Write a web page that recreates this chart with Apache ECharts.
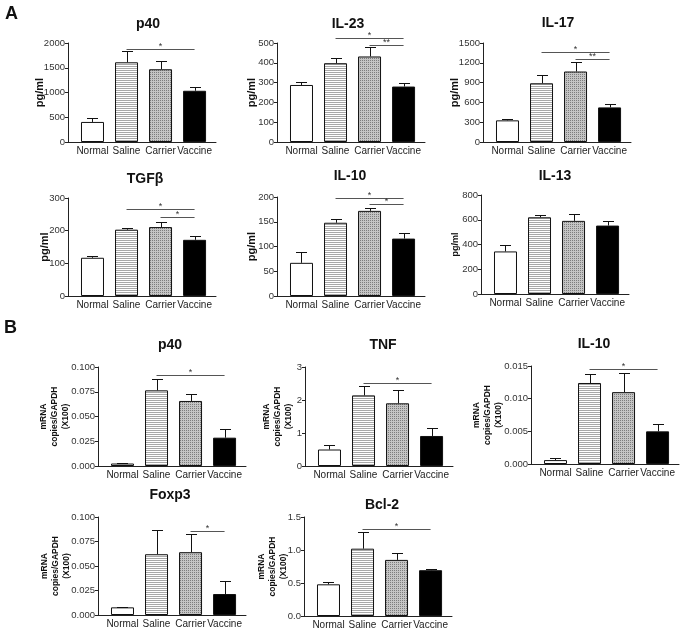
<!DOCTYPE html>
<html><head><meta charset="utf-8">
<script src="https://cdn.jsdelivr.net/npm/echarts@6/dist/echarts.min.js"></script>
<style>html,body{margin:0;padding:0;background:#fff}#c{width:686px;height:634px}</style>
</head><body><div id="c"></div>
<script>
const categories = ['Normal', 'Saline', 'Carrier', 'Vaccine'];

// ---- Panel A: protein (pg/ml) ----
const p40A_mean = [405, 1610, 1470, 1035];
const p40A_sem  = [70, 220, 163, 84];
const p40A_sig  = [[1, 3, 1885, '*']];

const il23_mean = [288, 398, 432, 280];
const il23_sem  = [17, 24, 48, 20];
const il23_sig  = [[1, 3, 525, '*'], [2, 3, 492, '**']];

const il17_mean = [328, 890, 1068, 524];
const il17_sem  = [17, 122, 147, 56];
const il17_sig  = [[1, 3, 1363, '*'], [2, 3, 1256, '**']];

const tgfb_mean = [117, 203, 211, 172];
const tgfb_sem  = [5, 5, 17, 11];
const tgfb_sig  = [[1, 3, 266, '*'], [2, 3, 241, '*']];

const il10A_mean = [67, 148, 172, 116];
const il10A_sem  = [22, 8, 5, 12];
const il10A_sig  = [[1, 3, 197, '*'], [2, 3, 185, '*']];

const il13_mean = [344, 620, 591, 553];
const il13_sem  = [56, 22, 56, 38];
const il13_sig  = [];

// ---- Panel B: mRNA copies/GAPDH (X100) ----
const p40B_mean = [0.0025, 0.0764, 0.0657, 0.0286];
const p40B_sem  = [0.0008, 0.0118, 0.0074, 0.0091];
const p40B_sig  = [[1, 3, 0.0923, '*']];

const tnf_mean = [0.50, 2.14, 1.90, 0.91];
const tnf_sem  = [0.15, 0.28, 0.39, 0.23];
const tnf_sig  = [[1, 3, 2.525, '*']];

const il10B_mean = [0.0006, 0.0124, 0.0110, 0.0050];
const il10B_sem  = [0.0003, 0.0014, 0.0030, 0.0011];
const il10B_sig  = [[1, 3, 0.0146, '*']];

const foxp3_mean = [0.0078, 0.0620, 0.0641, 0.0214];
const foxp3_sem  = [0.0008, 0.0251, 0.0189, 0.0135];
const foxp3_sig  = [[2, 3, 0.0858, '*']];

const bcl2_mean = [0.48, 1.02, 0.85, 0.694];
const bcl2_sem  = [0.03, 0.25, 0.107, 0.021];
const bcl2_sig  = [[1, 3, 1.323, '*']];

// y-axis tick settings [max, interval, decimals]
const p40A_ticks  = [2000, 500, 0];
const il23_ticks  = [500, 100, 0];
const il17_ticks  = [1500, 300, 0];
const tgfb_ticks  = [300, 100, 0];
const il10A_ticks = [200, 50, 0];
const il13_ticks  = [800, 200, 0];
const p40B_ticks  = [0.1, 0.025, 3];
const tnf_ticks   = [3, 1, 0];
const il10B_ticks = [0.015, 0.005, 3];
const foxp3_ticks = [0.1, 0.025, 3];
const bcl2_ticks  = [1.5, 0.5, 1];

const nameA = 'pg/ml';
const nameB = 'mRNA\ncopies/GAPDH\n(X100)';

// ---- layout (not data) ----
const panels = [
  {title: 'p40',   mean: p40A_mean,  sem: p40A_sem,  sig: p40A_sig,  ticks: p40A_ticks,  name: nameA, nameSize: 11, nameGap: 21, left: 68,  top: 43,  h: 99, tx: 148, ty: 24},
  {title: 'IL-23', mean: il23_mean,  sem: il23_sem,  sig: il23_sig,  ticks: il23_ticks,  name: nameA, nameSize: 11, nameGap: 18, left: 277, top: 43,  h: 99, tx: 348, ty: 24},
  {title: 'IL-17', mean: il17_mean,  sem: il17_sem,  sig: il17_sig,  ticks: il17_ticks,  name: nameA, nameSize: 11, nameGap: 21, left: 483, top: 43,  h: 99, tx: 558, ty: 23},
  {title: 'TGFβ',  mean: tgfb_mean,  sem: tgfb_sem,  sig: tgfb_sig,  ticks: tgfb_ticks,  name: nameA, nameSize: 11, nameGap: 16, left: 68,  top: 198, h: 98, tx: 145, ty: 179},
  {title: 'IL-10', mean: il10A_mean, sem: il10A_sem, sig: il10A_sig, ticks: il10A_ticks, name: nameA, nameSize: 11, nameGap: 18, left: 277, top: 197, h: 99, tx: 350, ty: 176},
  {title: 'IL-13', mean: il13_mean,  sem: il13_sem,  sig: il13_sig,  ticks: il13_ticks,  name: nameA, nameSize: 9,  nameGap: 20, left: 481, top: 195, h: 99, tx: 555, ty: 176},
  {title: 'p40',   mean: p40B_mean,  sem: p40B_sem,  sig: p40B_sig,  ticks: p40B_ticks,  name: nameB, nameSize: 8.5, nameGap: 27, left: 98,  top: 367, h: 99, tx: 170, ty: 345},
  {title: 'TNF',   mean: tnf_mean,   sem: tnf_sem,   sig: tnf_sig,   ticks: tnf_ticks,   name: nameB, nameSize: 8.5, nameGap: 11, left: 305, top: 367, h: 99, tx: 383, ty: 345},
  {title: 'IL-10', mean: il10B_mean, sem: il10B_sem, sig: il10B_sig, ticks: il10B_ticks, name: nameB, nameSize: 8.5, nameGap: 27, left: 531, top: 366, h: 98, tx: 594, ty: 344},
  {title: 'Foxp3', mean: foxp3_mean, sem: foxp3_sem, sig: foxp3_sig, ticks: foxp3_ticks, name: nameB, nameSize: 8.5, nameGap: 26, left: 98,  top: 517, h: 98, tx: 170, ty: 495},
  {title: 'Bcl-2', mean: bcl2_mean,  sem: bcl2_sem,  sig: bcl2_sig,  ticks: bcl2_ticks,  name: nameB, nameSize: 8.5, nameGap: 15, left: 304, top: 517, h: 99, tx: 382, ty: 505}
];

const FONT = '"Liberation Sans", Arial, Helvetica, sans-serif';
const XMIN = -0.72, XMAX = 3.63, GRID_W = 148, BAR_W = 23;

function makePattern(kind) {
  const c = document.createElement('canvas');
  const ctx = c.getContext('2d');
  if (kind === 'stripe') {
    c.width = 4; c.height = 2;
    ctx.fillStyle = '#ffffff'; ctx.fillRect(0, 0, 4, 2);
    ctx.fillStyle = '#a8a8a8'; ctx.fillRect(0, 0, 4, 1);
  } else {
    c.width = 2; c.height = 2;
    ctx.fillStyle = '#c4c4c4'; ctx.fillRect(0, 0, 2, 2);
    ctx.fillStyle = '#7c7c7c'; ctx.fillRect(0, 0, 1, 1);
  }
  return c;
}
const fills = ['#ffffff', {image: makePattern('stripe'), repeat: 'repeat'}, {image: makePattern('dots'), repeat: 'repeat'}, '#000000'];

const grids = [], xAxes = [], yAxes = [], series = [], graphics = [];

panels.forEach((p, k) => {
  grids.push({left: p.left, top: p.top, width: GRID_W, height: p.h, containLabel: false});
  xAxes.push({
    gridIndex: k, type: 'value', min: XMIN, max: XMAX, minInterval: 1, maxInterval: 1,
    axisLine: {show: true, onZero: false, lineStyle: {color: '#222', width: 1}},
    axisTick: {show: false}, splitLine: {show: false},
    axisLabel: {
      fontFamily: FONT, fontSize: 10, color: '#222', margin: 4,
      formatter: v => {
        const r = Math.round(v);
        return (Math.abs(v - r) < 1e-6 && r >= 0 && r < categories.length) ? categories[r] : '';
      }
    }
  });
  const dec = p.ticks[2];
  yAxes.push({
    gridIndex: k, type: 'value', min: 0, max: p.ticks[0], interval: p.ticks[1],
    axisLine: {show: true, onZero: false, lineStyle: {color: '#222', width: 1}},
    axisTick: {show: true, length: 3, lineStyle: {color: '#222'}},
    splitLine: {show: false},
    axisLabel: {fontFamily: FONT, fontSize: 9.5, color: '#333', margin: 3, formatter: v => v.toFixed(dec)},
    name: p.name, nameLocation: 'middle', nameGap: p.nameGap, nameMoveOverlap: false,
    nameTextStyle: {fontFamily: FONT, fontWeight: 'bold', fontSize: p.nameSize, color: '#111',
      lineHeight: p.nameSize + 2.5, align: 'center'}
  });
  series.push({
    type: 'bar', xAxisIndex: k, yAxisIndex: k, barWidth: BAR_W, silent: true,
    data: p.mean.map((v, i) => ({value: [i, v], itemStyle: {color: fills[i], borderColor: '#111', borderWidth: 1}})),
    z: 2
  });
  series.push({
    type: 'custom', xAxisIndex: k, yAxisIndex: k, silent: true, z: 3,
    data: p.mean.map((v, i) => [i, v, p.sem[i]]),
    renderItem: (params, api) => {
      const x = api.value(0), m = api.value(1), s = api.value(2);
      const p0 = api.coord([x, m]), p1 = api.coord([x, m + s]);
      const cx = Math.round(p0[0]) + 0.5, yt = Math.round(p1[1]) + 0.5;
      return {type: 'group', children: [
        {type: 'line', shape: {x1: cx, y1: p0[1], x2: cx, y2: yt}, style: {stroke: '#111', lineWidth: 1}},
        {type: 'line', shape: {x1: cx - 5.5, y1: yt, x2: cx + 5.5, y2: yt}, style: {stroke: '#111', lineWidth: 1}}
      ]};
    }
  });
  if (p.sig.length) {
    series.push({
      type: 'custom', xAxisIndex: k, yAxisIndex: k, silent: true, z: 4,
      data: p.sig.map(s => [s[0], s[1], s[2]]),
      renderItem: (params, api) => {
        const a = api.coord([api.value(0), api.value(2)]);
        const b = api.coord([api.value(1), api.value(2)]);
        const y = Math.round(a[1]) + 0.5;
        return {type: 'group', children: [
          {type: 'line', shape: {x1: a[0], y1: y, x2: b[0], y2: y}, style: {stroke: '#555', lineWidth: 1}},
          {type: 'text', x: (a[0] + b[0]) / 2, y: y + 2,
            style: {text: p.sig[params.dataIndex][3], textAlign: 'center', textVerticalAlign: 'bottom',
              fontFamily: FONT, fontSize: 9, fill: '#333'}}
        ]};
      }
    });
  }
  graphics.push({type: 'text', x: p.tx, y: p.ty,
    style: {text: p.title, textAlign: 'center', textVerticalAlign: 'middle', fontFamily: FONT, fontWeight: 'bold', fontSize: 14, fill: '#111'}});
});

graphics.push({type: 'text', x: 5, y: 14, style: {text: 'A', textAlign: 'left', textVerticalAlign: 'middle', fontFamily: FONT, fontWeight: 'bold', fontSize: 18, fill: '#111'}});
graphics.push({type: 'text', x: 4, y: 328, style: {text: 'B', textAlign: 'left', textVerticalAlign: 'middle', fontFamily: FONT, fontWeight: 'bold', fontSize: 18, fill: '#111'}});

const chart = echarts.init(document.getElementById('c'), null, {renderer: 'canvas'});
chart.setOption({
  animation: false, backgroundColor: '#fff',
  grid: grids, xAxis: xAxes, yAxis: yAxes, series: series, graphic: graphics
});
</script></body></html>
